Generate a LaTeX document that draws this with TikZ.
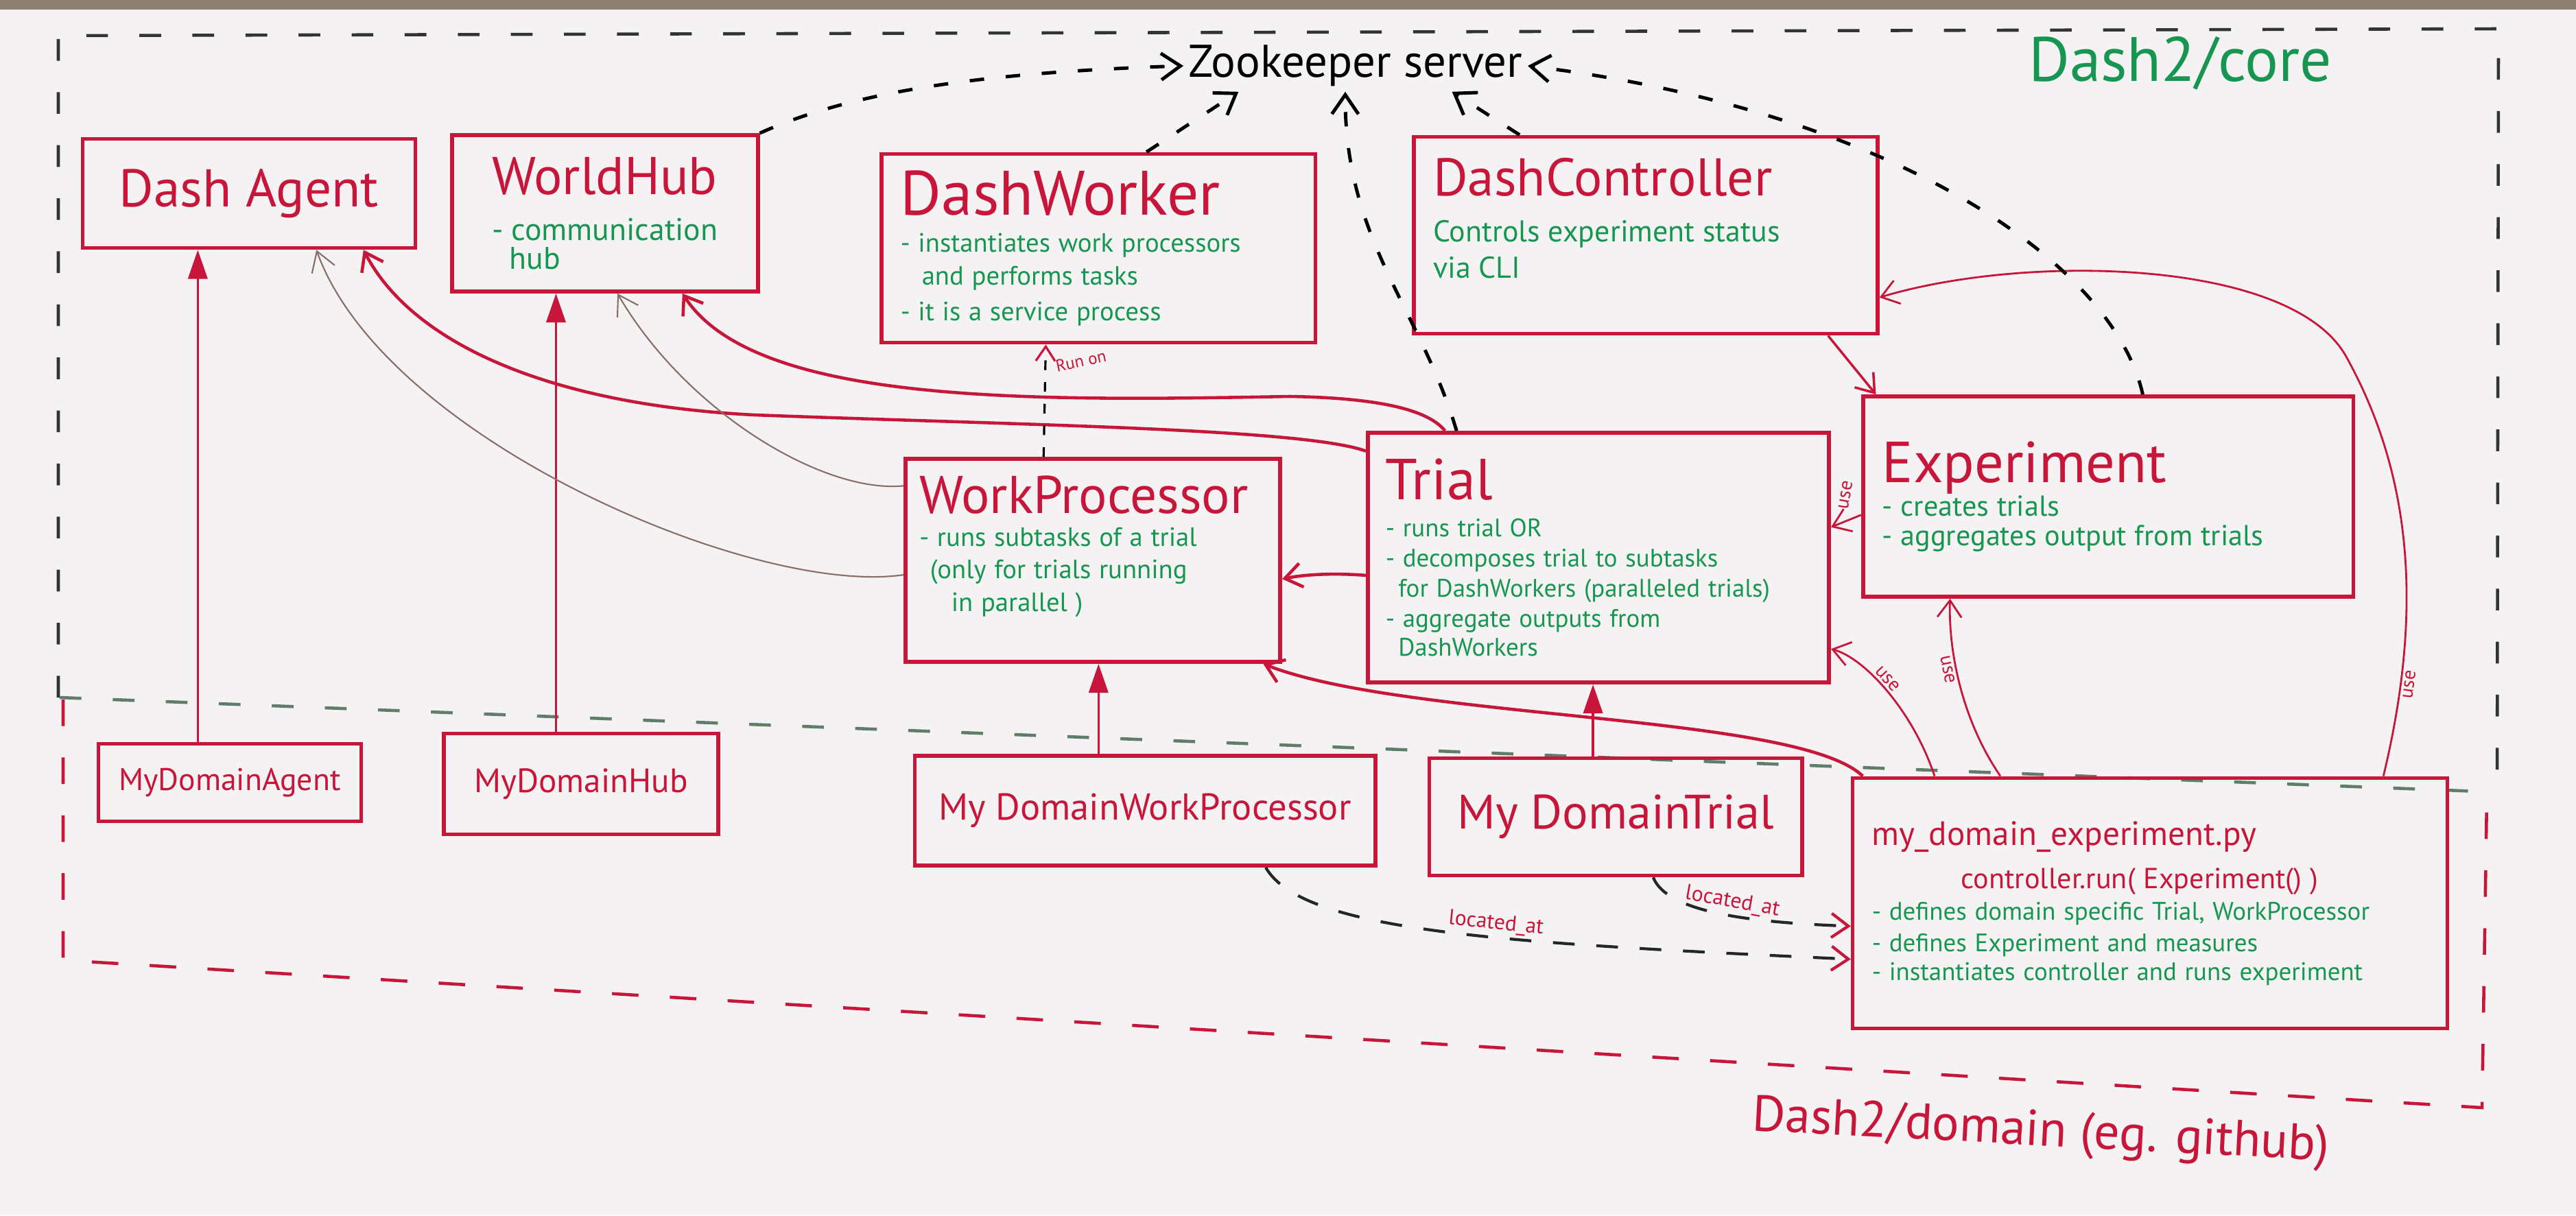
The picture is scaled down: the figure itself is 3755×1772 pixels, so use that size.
\documentclass[tikz,border=0pt]{standalone}
\usepackage{fontspec}
\setmainfont{PT Sans}
\usetikzlibrary{arrows.meta,calc,positioning}

\definecolor{mred}{RGB}{200,22,58}
\definecolor{mgreen}{RGB}{22,150,80}
\definecolor{pencil}{RGB}{135,110,105}
\definecolor{board}{RGB}{244,242,242}
\definecolor{seam}{RGB}{95,125,105}
\definecolor{frame}{RGB}{140,128,115}

\newcommand{\fsz}[2]{\fontsize{#1}{#2}\selectfont}

\tikzset{
  box/.style={draw=mred, line width=1.6pt, text=mred, inner xsep=8pt, inner ysep=5pt, align=left},
  inherit/.style={draw=mred, line width=1pt, -{Triangle[length=12pt,width=8pt,fill=mred]}},
  assoc/.style={draw=mred, line width=1.3pt, -{Straight Barb[length=7pt,width=10pt]}},
  usearrow/.style={draw=mred, line width=.8pt, -{Straight Barb[length=7pt,width=10pt]}},
  pencilline/.style={draw=pencil, line width=.6pt, -{Straight Barb[length=8pt,width=10pt]}},
  zkline/.style={draw=black, line width=1.4pt, dash pattern=on 6pt off 9pt, -{Straight Barb[length=8pt,width=11pt]}},
  runline/.style={draw=black, line width=.9pt, dash pattern=on 4pt off 5pt, -{Straight Barb[length=6pt,width=8pt,color=mred]}},
  locline/.style={draw=black!85, line width=1.2pt, dash pattern=on 9pt off 9pt, -{Straight Barb[length=7pt,width=10pt,color=mred]}},
  lbl/.style={text=mred, inner sep=1pt},
  uselbl/.style={lbl, font=\fsz{8}{9}},
}

\begin{document}
\begin{tikzpicture}[x=0.01cm, y=-0.01cm]
\useasboundingbox (0,0) rectangle (3755,1772);
\fill[board] (0,0) rectangle (3755,1772);
\fill[frame] (0,0) rectangle (3755,14);

% the two regions of the board
\draw[black!80, line width=1.3pt, dash pattern=on 9pt off 13pt] (85,1017) -- (85,52) -- (3642,42) -- (3640,1155);
\draw[seam, line width=1.3pt, dash pattern=on 9pt off 13pt] (87,1017) -- (3640,1155);
\draw[mred, line width=1.3pt, dash pattern=on 11pt off 13pt] (92,1020) -- (92,1400) -- (3618,1615) -- (3625,1160);

\node[text=mgreen, font=\fsz{26}{30}] (corelbl) at (3178,92) {Dash2/core};
\node[text=mred, font=\fsz{21}{25}, rotate=-3] (domlbl) at (2975,1652) {Dash2/domain (eg. github)};
\node[font=\fsz{19}{22}, inner sep=2pt] (zk) at (1976,96) {Zookeeper server};

% core classes
\node[box, align=center, minimum width=4.85cm, minimum height=1.59cm] (agent) at (363,282) {\fsz{22}{26}Dash Agent};
\node[box, text width=3.89cm, minimum width=4.45cm, minimum height=2.28cm] (hub) at (882,311)
  {\fsz{22}{26}\hspace*{.3cm}WorldHub\par\vspace{4pt}\fsz{13}{15}\color{mgreen}\hspace*{.3cm}- communication\\\hspace*{.55cm}hub};
\node[box, text width=5.76cm, minimum width=6.32cm, minimum height=2.75cm] (worker) at (1601,362)
  {\fsz{26}{30}DashWorker\par\vspace{2pt}\fsz{11}{13.5}\color{mgreen}- instantiates work processors\\\hspace*{.8em}and performs tasks\\[3pt]- it is a service process};
\node[box, text width=6.19cm, minimum width=6.75cm, minimum height=2.87cm] (ctrl) at (2399,343)
  {\fsz{22}{26}DashController\par\vspace{4pt}\fsz{12.5}{15}\color{mgreen}Controls experiment status\\via CLI\par\vspace*{.5cm}};
\node[box, text width=6.58cm, minimum width=7.14cm, minimum height=2.92cm] (exper) at (3073,724)
  {\fsz{24}{28}Experiment\par\fsz{12}{14}\color{mgreen}- creates trials\\- aggregates output from trials};
\node[box, text width=6.2cm, inner xsep=6pt, minimum width=6.72cm, minimum height=3.64cm] (trial) at (2330,813)
  {\fsz{24}{28}Trial\par\vspace{3pt}\fsz{10.5}{12.5}\color{mgreen}- runs trial OR\\- decomposes trial to subtasks\\\hspace*{.5em}for DashWorkers (paralleled trials)\\- aggregate outputs from\\\hspace*{.5em}DashWorkers};
\node[box, text width=5.05cm, inner xsep=5pt, minimum width=5.46cm, minimum height=2.96cm] (wproc) at (1593,817)
  {\fsz{22}{26}WorkProcessor\par\fsz{11}{13.5}\color{mgreen}- runs subtasks of a trial\\\hspace*{.4em}(only for trials running\\\hspace*{1.2em}in parallel )\par\vspace*{.4cm}};

% domain classes
\node[box, align=center, minimum width=3.83cm, minimum height=1.13cm] (myagent) at (335,1141) {\fsz{13}{15}MyDomainAgent};
\node[box, align=center, minimum width=4.0cm, minimum height=1.47cm] (myhub) at (847,1143) {\fsz{14}{16}MyDomainHub};
\node[box, align=center, minimum width=6.71cm, minimum height=1.6cm] (mywproc) at (1669,1182) {\fsz{15.5}{18}My DomainWorkProcessor};
\node[box, align=center, minimum width=5.43cm, minimum height=1.71cm] (mytrial) at (2355,1191) {\fsz{20}{24}My DomainTrial};
\node[box, text width=8.1cm, minimum width=8.52cm, minimum height=3.65cm] (pyfile) at (3134,1317)
  {\fsz{14}{17}my\_domain\_experiment.py\par\vspace{3pt}\fsz{12}{15}\hspace*{1.3cm}controller.run( Experiment() )\par\fsz{10.5}{13}\color{mgreen}- defines domain specific Trial, WorkProcessor\\- defines Experiment and measures\\- instantiates controller and runs experiment};

% inheritance
\coordinate (ma) at ($(myagent.north west)!.38!(myagent.north east)$);
\coordinate (mh) at ($(myhub.north west)!.41!(myhub.north east)$);
\coordinate (mw) at ($(mywproc.north west)!.40!(mywproc.north east)$);
\coordinate (mt) at ($(mytrial.north west)!.44!(mytrial.north east)$);
\draw[inherit] (ma) -- (ma |- agent.south);
\draw[inherit] (mh) -- (mh |- hub.south);
\draw[inherit] (mw) -- (mw |- wproc.south);
\draw[inherit] (mt) -- (mt |- trial.south);

% associations
\draw[assoc] ($(trial.north west)!.08!(trial.south west)$) .. controls (1900,625) and (1500,620) .. (1100,605)
  .. controls (800,590) and (600,500) .. ($(agent.south west)!.84!(agent.south east)$);
\draw[assoc] ($(trial.north west)!.17!(trial.north east)$) .. controls (2080,595) and (2000,580) .. (1880,578)
  .. controls (1500,585) and (1100,590) .. ($(hub.south west)!.75!(hub.south east)$);
\draw[pencilline] ($(wproc.north west)!.57!(wproc.south west)$) .. controls (1100,870) and (560,640) .. ($(agent.south west)!.70!(agent.south east)$);
\draw[pencilline] ($(wproc.north west)!.14!(wproc.south west)$) .. controls (1200,720) and (1000,600) .. ($(hub.south west)!.54!(hub.south east)$);
\draw[assoc] ($(trial.north west)!.57!(trial.south west)$) .. controls (1940,835) and (1900,838) .. ($(wproc.north east)!.59!(wproc.south east)$);
\draw[assoc] ($(pyfile.north west)!.02!(pyfile.north east)$) .. controls (2620,1040) and (2050,1050) .. ($(wproc.south west)!.95!(wproc.south east)$);
\draw[assoc, line width=1pt] ($(ctrl.south west)!.89!(ctrl.south east)$) -- ($(exper.north west)!.03!(exper.north east)$);

% use
\draw[usearrow] ($(pyfile.north west)!.14!(pyfile.north east)$) .. controls (2790,1040) and (2720,960) .. ($(trial.north east)!.86!(trial.south east)$)
  node[uselbl, pos=.56, above, sloped] (use1) {use};
\draw[usearrow] ($(pyfile.north west)!.25!(pyfile.north east)$) .. controls (2860,1050) and (2840,950) .. ($(exper.south west)!.18!(exper.south east)$)
  node[uselbl, pos=.6, below, sloped] (use2) {use};
\draw[usearrow] ($(pyfile.north west)!.89!(pyfile.north east)$) .. controls (3530,900) and (3520,700) .. (3420,520)
  node[uselbl, pos=.2, below, sloped] (use3) {use}
  .. controls (3340,376) and (2950,370) .. ($(ctrl.north east)!.81!(ctrl.south east)$);
\draw[usearrow] ($(exper.north west)!.59!(exper.south west)$) -- ($(trial.north east)!.38!(trial.south east)$);
\node[uselbl, rotate=80] (use4) at (2690,722) {use};

\draw[runline] ($(wproc.north west)!.37!(wproc.north east)$) -- ($(worker.south west)!.38!(worker.south east)$)
  node[lbl, pos=.8, right=3pt, rotate=12, font=\fsz{7}{8}] (runon) {Run on};

% zookeeper
\draw[zkline] (hub.north east) .. controls (1250,130) and (1450,105) .. (zk.west);
\draw[zkline] ($(worker.north west)!.61!(worker.north east)$) -- ($(zk.south west)!.16!(zk.south east)$);
\draw[zkline] ($(trial.north west)!.195!(trial.north east)$) .. controls (2070,450) and (1960,350) .. ($(zk.south west)!.47!(zk.south east)$);
\draw[zkline] ($(ctrl.north west)!.23!(ctrl.north east)$) -- ($(zk.south west)!.78!(zk.south east)$);
\draw[zkline] ($(exper.north west)!.57!(exper.north east)$) .. controls (3080,380) and (2750,160) .. (zk.east);

% located at
\draw[locline] ($(mytrial.south west)!.6!(mytrial.south east)$) .. controls (2430,1330) and (2550,1345) .. ($(pyfile.north west)!.59!(pyfile.south west)$)
  node[lbl, pos=.55, above, sloped, font=\fsz{9}{11}] (loc1) {located\_at};
\draw[locline] ($(mywproc.south west)!.76!(mywproc.south east)$) .. controls (1900,1360) and (2200,1375) .. ($(pyfile.north west)!.72!(pyfile.south west)$)
  node[lbl, pos=.58, above, sloped, font=\fsz{9}{11}] (loc2) {located\_at};
\end{tikzpicture}
\end{document}
